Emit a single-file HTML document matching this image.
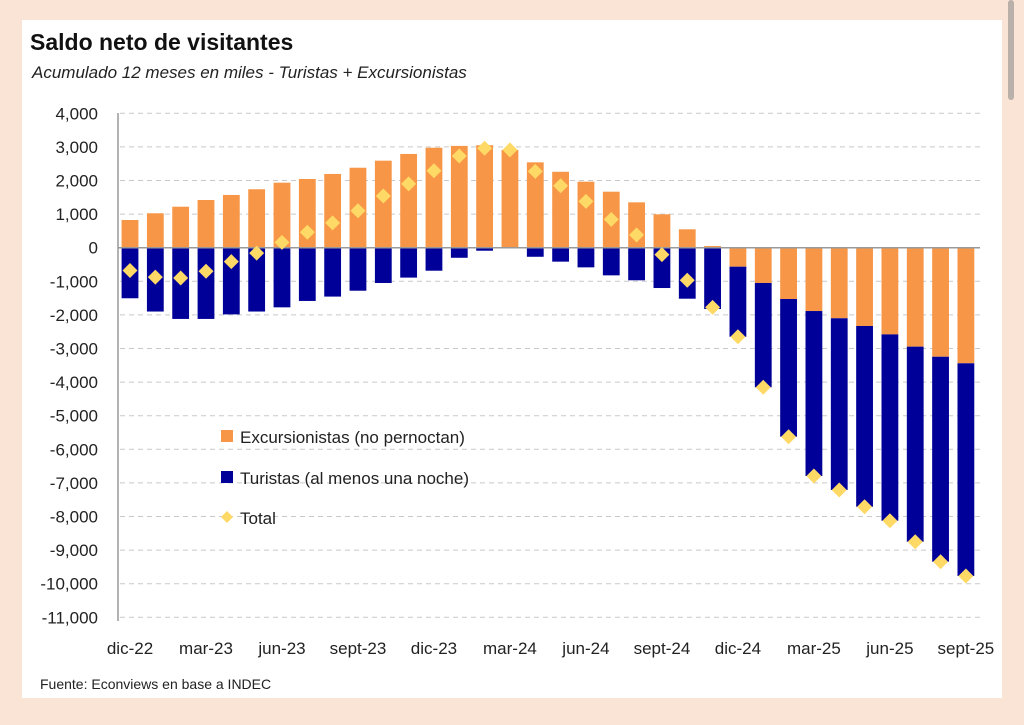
<!DOCTYPE html>
<html><head><meta charset="utf-8"><style>
body{margin:0;width:1024px;height:725px;background:#f9e4d6;overflow:hidden;font-family:"Liberation Sans",sans-serif;}
#p{position:absolute;left:22px;top:20px;width:980px;height:678px;background:#fff;}
#sb{position:absolute;left:1008px;top:0;width:6px;height:100px;background:#b9b0aa;border-radius:3px;}
</style></head><body>
<div id="p"></div><div id="sb"></div>
<svg id="s" width="1024" height="725" style="position:absolute;left:0;top:0" font-family="Liberation Sans, sans-serif"></svg>
<script>
var exc=[825,1025,1220,1420,1570,1740,1935,2045,2195,2380,2590,2790,2975,3030,3050,2910,2540,2260,1965,1667,1350,994,548,50,-565,-1050,-1527,-1885,-2100,-2330,-2580,-2945,-3245,-3440];
var tot=[null,null,null,null,null,null,null,null,null,null,null,null,null,null,null,null,null,null,null,null,null,null,null,-1775,-2650,-4155,-5625,-6795,-7210,-7710,-8125,-8750,-9345,-9770];
var tur=[-1505,-1900,-2120,-2120,-1985,-1900,-1775,-1585,-1455,-1280,-1050,-890,-685,-300,-90,0,-270,-415,-585,-823,-970,-1200,-1518,-1825];
var Y=function(v){return 247.7-v*0.0336;};
var h='';
h+='<text x="30" y="50" font-size="23" font-weight="bold" fill="#111">Saldo neto de visitantes</text>';
h+='<text x="32" y="78" font-size="17" font-style="italic" fill="#222">Acumulado 12 meses en miles - Turistas + Excursionistas</text>';
for(var v=4000;v>=-11000;v-=1000){var y=Y(v);
 if(v!=0)h+='<line x1="120" x2="980" y1="'+y+'" y2="'+y+'" stroke="#c9c9c9" stroke-dasharray="5,4"/>';
 h+='<text x="98" y="'+(y+6)+'" font-size="17" text-anchor="end" fill="#222">'+v.toLocaleString('en-US')+'</text>';}
h+='<line x1="118" x2="118" y1="113" y2="621" stroke="#999" stroke-width="1.5"/>';
for(var i=0;i<34;i++){var c=130+i*25.33,x=c-8.4,w=16.8;
 var e=exc[i];
 if(i<24){
  var t=tur[i]; tot[i]=e+t;
  h+='<rect x="'+x+'" y="'+Y(e)+'" width="'+w+'" height="'+(e*0.0336)+'" fill="#f79646"/>';
  if(t<0)h+='<rect x="'+x+'" y="'+Y(0)+'" width="'+w+'" height="'+(-t*0.0336)+'" fill="#000099"/>';
 }else{
  h+='<rect x="'+x+'" y="'+Y(0)+'" width="'+w+'" height="'+(-e*0.0336)+'" fill="#f79646"/>';
  h+='<rect x="'+x+'" y="'+Y(e)+'" width="'+w+'" height="'+((e-tot[i])*0.0336)+'" fill="#000099"/>';
 }}
h+='<line x1="118" x2="980" y1="247.7" y2="247.7" stroke="#999" stroke-width="1.5"/>';
for(var i=0;i<34;i++){var c=130+i*25.33,y=Y(tot[i]);
 h+='<polygon points="'+c+','+(y-7.5)+' '+(c+7.5)+','+y+' '+c+','+(y+7.5)+' '+(c-7.5)+','+y+'" fill="#ffd966"/>';}
var L=['dic-22','mar-23','jun-23','sept-23','dic-23','mar-24','jun-24','sept-24','dic-24','mar-25','jun-25','sept-25'];
for(var k=0;k<12;k++)h+='<text x="'+(130+k*3*25.33)+'" y="654" font-size="17" text-anchor="middle" fill="#222">'+L[k]+'</text>';
h+='<rect x="221" y="430" width="12" height="12" fill="#f79646"/><text x="240" y="443" font-size="17" fill="#222">Excursionistas (no pernoctan)</text>';
h+='<rect x="221" y="471" width="12" height="12" fill="#000099"/><text x="240" y="484" font-size="17" fill="#222">Turistas (al menos una noche)</text>';
h+='<polygon points="227,511 233,517 227,523 221,517" fill="#ffd966"/><text x="240" y="524" font-size="17" fill="#222">Total</text>';
h+='<text x="40" y="689" font-size="14" fill="#222">Fuente: Econviews en base a INDEC</text>';
document.getElementById('s').innerHTML=h;
</script>
</body></html>
